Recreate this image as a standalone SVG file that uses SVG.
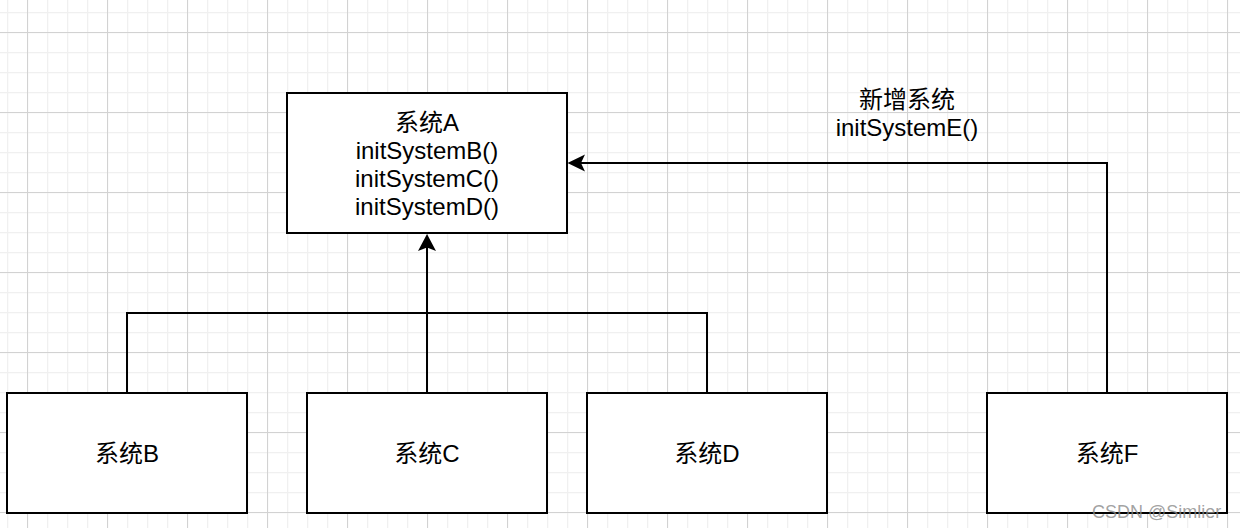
<svg xmlns="http://www.w3.org/2000/svg" width="1240" height="528" viewBox="0 0 1240 528">
  <style>
    .box { fill: #ffffff; stroke: #000000; stroke-width: 2; }
    .lbl { font-family: "Liberation Sans", "Noto Sans CJK SC", sans-serif; font-size: 24px; fill: #000000; text-anchor: middle; }
    .edge { fill: none; stroke: #000000; stroke-width: 2; }
    .head { fill: #000000; stroke: none; }
    .wm { font-family: "Liberation Sans", "Noto Sans CJK SC", sans-serif; font-size: 18px; fill: #8a8a8a; fill-opacity: 0.8; }
  </style>
  <defs>
    <pattern id="minor" patternUnits="userSpaceOnUse" x="7" y="12" width="20" height="20">
      <path d="M0.5 0V20M0 0.5H20" stroke="#f0f0f0" stroke-width="1.5" fill="none"/>
    </pattern>
    <pattern id="major" patternUnits="userSpaceOnUse" x="27" y="32" width="80" height="80">
      <path d="M0.5 0V80M0 0.5H80" stroke="#d2d2d2" stroke-width="1" fill="none"/>
    </pattern>
  </defs>
  <rect width="1240" height="528" fill="#ffffff"/>
  <rect width="1240" height="528" fill="url(#minor)"/>
  <rect width="1240" height="528" fill="url(#major)"/>

  <g id="connectors">
    <path class="edge" d="M127 393V313H707V393"/>
    <path class="edge" d="M427 393V246"/>
    <polygon class="head" points="427,234 418,251 427,247.5 436,251"/>
    <path class="edge" d="M1107 393V163H581"/>
    <polygon class="head" points="567.5,163 585,154.5 581,163 585,171.5"/>
    <g id="edge-label">
      <text class="lbl" x="907" y="108">新增系统</text>
      <text class="lbl" x="907" y="136">initSystemE()</text>
    </g>
  </g>

  <g id="nodeA">
    <rect class="box" x="287" y="93" width="280" height="140"/>
    <text class="lbl" x="427" y="131">系统A</text>
    <text class="lbl" x="427" y="159">initSystemB()</text>
    <text class="lbl" x="427" y="187">initSystemC()</text>
    <text class="lbl" x="427" y="215">initSystemD()</text>
  </g>
  <g id="nodeB">
    <rect class="box" x="7" y="393" width="240" height="120"/>
    <text class="lbl" x="127" y="462">系统B</text>
  </g>
  <g id="nodeC">
    <rect class="box" x="307" y="393" width="240" height="120"/>
    <text class="lbl" x="427" y="462">系统C</text>
  </g>
  <g id="nodeD">
    <rect class="box" x="587" y="393" width="240" height="120"/>
    <text class="lbl" x="707" y="462">系统D</text>
  </g>
  <g id="nodeF">
    <rect class="box" x="987" y="393" width="240" height="120"/>
    <text class="lbl" x="1107" y="462">系统F</text>
  </g>

  <text class="wm" x="1092" y="518">CSDN @Simlier</text>
</svg>
